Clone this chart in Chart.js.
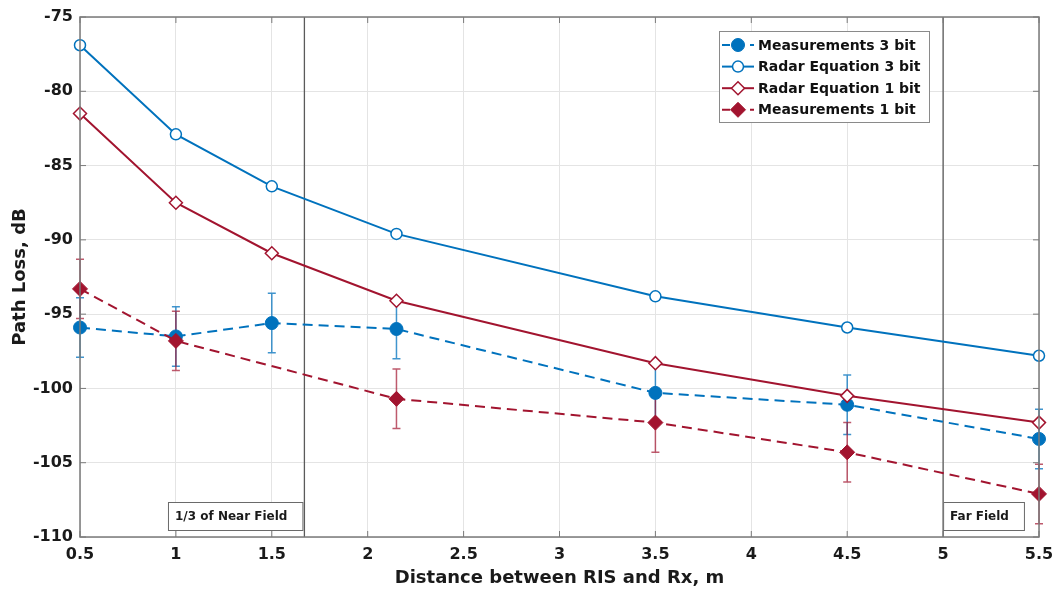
<!DOCTYPE html>
<html>
<head>
<meta charset="utf-8">
<script src="https://cdn.jsdelivr.net/npm/chart.js@4.4.0/dist/chart.umd.min.js"></script>
<style>
  html, body { margin: 0; padding: 0; background: #fff; }
  #wrap { width: 1054px; height: 592px; }
</style>
</head>
<body>
<div id="wrap"><canvas id="chart" width="1054" height="592"></canvas></div>
<script>
// distances between RIS and Rx, m
const distances = [0.5, 1, 1.5, 2.15, 3.5, 4.5, 5.5];
const meas3bit = [-95.9, -96.5, -95.6, -96.0, -100.3, -101.1, -103.4];
const radar3bit = [-76.9, -82.9, -86.4, -89.6, -93.8, -95.9, -97.8];
const radar1bit = [-81.5, -87.5, -90.9, -94.1, -98.3, -100.5, -102.3];
const meas1bit = [-93.3, -96.8, null, -100.7, -102.3, -104.3, -107.1];
const meas3err = [2, 2, 2, 2, 2, 2, 2];
const meas1err = [2, 2, null, 2, 2, 2, 2];
const xTicks = [0.5, 1, 1.5, 2, 2.5, 3, 3.5, 4, 4.5, 5, 5.5];
const yTicks = [-110, -105, -100, -95, -90, -85, -80, -75];
const fieldLines = [1.67, 5];
const fieldLabels = ['1/3 of Near Field', 'Far Field'];

const BLUE = '#0072BD';
const RED = '#A2142F';
const FONT = 'DejaVu Sans';
const DASH = [10, 6];

const pts = arr => distances.map((x, i) => ({ x: x, y: arr[i] }));

// error bars, vertical field lines and the axes box
const extras = {
    id: 'extras',
    beforeDatasetsDraw(chart) {
        const ctx = chart.ctx;
        const xs = chart.scales.x, ys = chart.scales.y;
        const a = chart.chartArea;
        ctx.save();
        // field lines
        ctx.strokeStyle = '#5a5a5a';
        ctx.lineWidth = 1.3;
        fieldLines.forEach(v => {
            const px = xs.getPixelForValue(v);
            ctx.beginPath();
            ctx.moveTo(px, a.top);
            ctx.lineTo(px, a.bottom);
            ctx.stroke();
        });
        // error bars
        const bars = [[meas3bit, meas3err, 'rgba(0,114,189,0.75)'], [meas1bit, meas1err, 'rgba(162,20,47,0.7)']];
        bars.forEach(([vals, errs, col]) => {
            ctx.strokeStyle = col;
            ctx.lineWidth = 1.5;
            distances.forEach((d, i) => {
                if (vals[i] == null || errs[i] == null) return;
                const px = xs.getPixelForValue(d);
                const top = ys.getPixelForValue(vals[i] + errs[i]);
                const bot = ys.getPixelForValue(vals[i] - errs[i]);
                ctx.beginPath();
                ctx.moveTo(px, top); ctx.lineTo(px, bot);
                ctx.moveTo(px - 4, top); ctx.lineTo(px + 4, top);
                ctx.moveTo(px - 4, bot); ctx.lineTo(px + 4, bot);
                ctx.stroke();
            });
        });
        ctx.restore();
    },
    afterDatasetsDraw(chart) {
        const ctx = chart.ctx;
        const xs = chart.scales.x, ys = chart.scales.y;
        const a = chart.chartArea;
        ctx.save();
        // axes box with inward ticks
        ctx.strokeStyle = '#7a7a7a';
        ctx.lineWidth = 1.5;
        ctx.strokeRect(a.left, a.top, a.right - a.left, a.bottom - a.top);
        ctx.lineWidth = 1;
        ctx.beginPath();
        xTicks.forEach(v => {
            const px = xs.getPixelForValue(v);
            ctx.moveTo(px, a.bottom); ctx.lineTo(px, a.bottom - 6);
            ctx.moveTo(px, a.top); ctx.lineTo(px, a.top + 6);
        });
        yTicks.forEach(v => {
            const py = ys.getPixelForValue(v);
            ctx.moveTo(a.left, py); ctx.lineTo(a.left + 6, py);
            ctx.moveTo(a.right, py); ctx.lineTo(a.right - 6, py);
        });
        ctx.stroke();

        // field text boxes
        ctx.font = 'bold 12px "' + FONT + '"';
        ctx.textBaseline = 'middle';
        fieldLines.forEach((v, i) => {
            const px = xs.getPixelForValue(v);
            const w = ctx.measureText(fieldLabels[i]).width + 22;
            const h = 28;
            const bx = i === 0 ? px - 2 - w : px;
            const by = a.bottom - 7 - h;
            ctx.fillStyle = '#fff';
            ctx.fillRect(bx, by, w, h);
            ctx.strokeStyle = '#6a6a6a';
            ctx.lineWidth = 1;
            ctx.strokeRect(bx + 0.5, by + 0.5, w, h);
            ctx.fillStyle = '#1a1a1a';
            ctx.textAlign = 'left';
            ctx.fillText(fieldLabels[i], bx + 7, by + h / 2 + 1);
        });

        // legend
        const lx = 719, ly = 31, lw = 210, lh = 91, row = 21.6;
        ctx.fillStyle = '#fff';
        ctx.fillRect(lx, ly, lw, lh);
        ctx.strokeStyle = '#8a8a8a';
        ctx.lineWidth = 1;
        ctx.strokeRect(lx + 0.5, ly + 0.5, lw, lh);
        ctx.font = 'bold 14px "' + FONT + '"';
        chart.data.datasets.forEach((ds, i) => {
            const cy = ly + 14 + i * row;
            ctx.strokeStyle = ds.borderColor;
            ctx.lineWidth = 2;
            ctx.setLineDash(ds.borderDash ? [8, 6] : []);
            ctx.beginPath();
            ctx.moveTo(lx + 3, cy); ctx.lineTo(lx + 35, cy);
            ctx.stroke();
            ctx.setLineDash([]);
            ctx.fillStyle = ds.pointBackgroundColor;
            ctx.strokeStyle = ds.pointBorderColor;
            ctx.lineWidth = ds.pointBorderWidth;
            Chart.helpers.drawPoint(ctx, { pointStyle: ds.pointStyle, radius: ds.pointRadius, borderWidth: ds.pointBorderWidth, rotation: 0 }, lx + 19, cy);
            ctx.fillStyle = '#111';
            ctx.textAlign = 'left';
            ctx.fillText(ds.label, lx + 39, cy + 1);
        });
        ctx.restore();
    }
};

new Chart(document.getElementById('chart'), {
    type: 'line',
    data: {
        datasets: [
            {
                label: 'Measurements 3 bit', data: pts(meas3bit), order: 3, clip: false,
                borderColor: BLUE, borderWidth: 2, borderDash: DASH,
                pointStyle: 'circle', pointRadius: 6.5, pointBorderWidth: 1,
                pointBackgroundColor: BLUE, pointBorderColor: BLUE
            },
            {
                label: 'Radar Equation 3 bit', data: pts(radar3bit), order: 2, clip: false,
                borderColor: BLUE, borderWidth: 2,
                pointStyle: 'circle', pointRadius: 5.5, pointBorderWidth: 1.5,
                pointBackgroundColor: '#fff', pointBorderColor: BLUE
            },
            {
                label: 'Radar Equation 1 bit', data: pts(radar1bit), order: 1, clip: false,
                borderColor: RED, borderWidth: 2,
                pointStyle: 'rectRot', pointRadius: 6.5, pointBorderWidth: 1.5,
                pointBackgroundColor: '#fff', pointBorderColor: RED
            },
            {
                label: 'Measurements 1 bit', data: pts(meas1bit), order: 0, clip: false,
                borderColor: RED, borderWidth: 2, borderDash: DASH, spanGaps: true,
                pointStyle: 'rectRot', pointRadius: 7.5, pointBorderWidth: 1,
                pointBackgroundColor: RED, pointBorderColor: RED
            }
        ]
    },
    options: {
        responsive: false,
        animation: false,
        devicePixelRatio: 1,
        layout: { padding: { top: 17, right: 15, left: 0, bottom: 0 } },
        plugins: { legend: { display: false }, tooltip: { enabled: false } },
        elements: { line: { tension: 0 } },
        scales: {
            x: {
                type: 'linear', min: 0.5, max: 5.5,
                afterBuildTicks: axis => { axis.ticks = xTicks.map(v => ({ value: v })); },
                afterFit: s => { s.height = 55; s.paddingLeft = 0; s.paddingRight = 0; },
                grid: { color: '#e4e4e4', drawTicks: false },
                border: { display: false },
                ticks: { padding: 8, color: '#1a1a1a', font: { family: FONT, size: 16, weight: 'bold' }, maxRotation: 0,
                    callback: v => String(v) },
                title: { display: true, text: 'Distance between RIS and Rx, m', color: '#1a1a1a',
                    font: { family: FONT, size: 18, weight: 'bold' }, padding: { top: 0, bottom: 3 } }
            },
            y: {
                min: -110, max: -75,
                afterBuildTicks: axis => { axis.ticks = yTicks.map(v => ({ value: v })); },
                afterFit: s => { s.width = 80; s.paddingTop = 0; s.paddingBottom = 0; },
                grid: { color: '#e4e4e4', drawTicks: false },
                border: { display: false },
                ticks: { padding: 7, color: '#1a1a1a', font: { family: FONT, size: 16, weight: 'bold' },
                    callback: v => String(v) },
                title: { display: true, text: 'Path Loss, dB', color: '#1a1a1a',
                    font: { family: FONT, size: 18, weight: 'bold' }, padding: { top: 10, bottom: 0 } }
            }
        }
    },
    plugins: [extras]
});
</script>
</body>
</html>
